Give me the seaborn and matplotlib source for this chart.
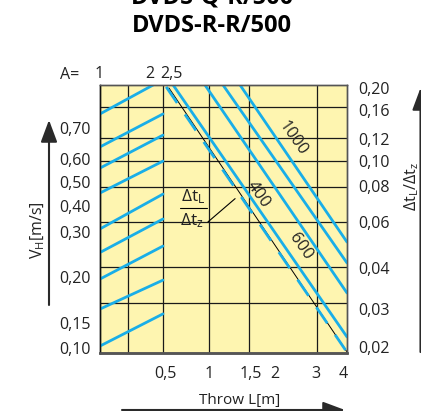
import numpy as np
import pandas as pd
import matplotlib.pyplot as plt
import seaborn as sns

# Nomogram values, as fractions of the plot box
# (x: 0 = left edge, 1 = right edge; y: 0 = bottom, 1 = top)
grid_x = [0.113, 0.255, 0.441, 0.603, 0.879]
grid_y = [0.918, 0.802, 0.716, 0.619, 0.489, 0.321, 0.187]

# V_H side: short rising lines
vh_start = [(0.0, 0.892), (0.0, 0.769), (0.0, 0.690), (0.0, 0.597), (0.0, 0.463),
            (0.004, 0.377), (0.0, 0.276), (0.0, 0.164), (0.0, 0.026)]
vh_end = [(0.255, 1.02), (0.255, 0.892), (0.255, 0.813), (0.255, 0.716), (0.255, 0.593),
          (0.255, 0.500), (0.255, 0.399), (0.255, 0.272), (0.255, 0.146)]

# throw side: falling lines
throw_start = [(0.296, 1.0), (0.425, 1.0), (0.498, 1.0), (0.567, 1.0)]
throw_end = [(1.0, 0.060), (1.0, 0.224), (1.0, 0.336), (1.0, 0.414)]
dashed_line = [(0.268, 0.993), (0.994, 0.011)]
guide_line = [(0.279, 0.989), (1.0, 0.004)]

curve_labels = ['1000', '400', '600']
curve_xy = [(0.781, 0.802), (0.640, 0.590), (0.810, 0.396)]

left_labels = ['0,70', '0,60', '0,50', '0,40', '0,30', '0,20', '0,15', '0,10']
left_pos = [0.840, 0.724, 0.638, 0.549, 0.451, 0.284, 0.112, 0.019]
right_labels = ['0,20', '0,16', '0,12', '0,10', '0,08', '0,06', '0,04', '0,03', '0,02']
right_pos = [0.989, 0.907, 0.799, 0.716, 0.623, 0.489, 0.317, 0.164, 0.022]
bottom_labels = ['0,5', '1', '1,5', '2', '3', '4']
bottom_pos = [0.263, 0.441, 0.611, 0.709, 0.874, 0.984]
top_labels = ['1', '2', '2,5']
top_pos = [-0.003, 0.202, 0.291]

BLUE = '#19aee8'
YELLOW = '#fef5b0'
INK = '#222222'

sns.set_style('white')
plt.rcParams['font.family'] = ['Open Sans', 'DejaVu Sans']
plt.rcParams['mathtext.fontset'] = 'custom'
plt.rcParams['mathtext.rm'] = 'Open Sans'
plt.rcParams['mathtext.it'] = 'Open Sans:italic'
plt.rcParams['mathtext.bf'] = 'Open Sans:bold'

W, H = 421, 411
fig = plt.figure(figsize=(W / 100, H / 100), dpi=100)
ax = fig.add_axes([100 / W, 1 - 353 / H, 247 / W, 268 / H])
ax.set_facecolor(YELLOW)
ax.set_xlim(0, 1)
ax.set_ylim(0, 1)

for gx in grid_x:
    ax.axvline(gx, color='#1a1a1a', lw=0.9, zorder=1)
for gy in grid_y:
    ax.axhline(gy, color='#1a1a1a', lw=0.9, zorder=1)

# solid blue lines
rows = []
for i, (s, e) in enumerate(zip(vh_start + throw_start, vh_end + throw_end)):
    rows.append({'x': s[0], 'y': s[1], 'line': i})
    rows.append({'x': e[0], 'y': e[1], 'line': i})
lines = pd.DataFrame(rows)
sns.lineplot(data=lines, x='x', y='y', units='line', estimator=None, sort=False,
             color=BLUE, lw=2.0, ax=ax, legend=False, zorder=3)

# thin black guide and the dashed blue line along it
guide = pd.DataFrame(guide_line, columns=['x', 'y'])
sns.lineplot(data=guide, x='x', y='y', sort=False, color='black', lw=0.7, ax=ax, zorder=2)
dashed = pd.DataFrame(dashed_line, columns=['x', 'y'])
sns.lineplot(data=dashed, x='x', y='y', sort=False, color=BLUE, lw=2.0, ax=ax,
             linestyle=(0, (7, 5)), zorder=3)

for lab, (cx, cy) in zip(curve_labels, curve_xy):
    ax.text(cx, cy, lab, rotation=-55, ha='center', va='center', fontsize=12,
            color=INK, rotation_mode='anchor', zorder=4)

# fraction label with leader
ax.text(0.377, 0.582, r'$\mathrm{\Delta t_L}$', ha='center', va='center', fontsize=12.5, color=INK)
ax.text(0.372, 0.494, r'$\mathrm{\Delta t_z}$', ha='center', va='center', fontsize=12.5, color=INK)
ax.plot([0.324, 0.433], [0.541, 0.541], color='black', lw=0.8)
ax.plot([0.437, 0.547], [0.489, 0.576], color='black', lw=0.8)

# axes labels / ticks
ax.set_xlabel('')
ax.set_ylabel('')
ax.set_yticks(left_pos, left_labels)
ax.set_xticks(bottom_pos, bottom_labels)
ax.tick_params(axis='y', length=0, pad=7, labelsize=11.5, labelcolor=INK)
ax.tick_params(axis='x', length=0, pad=9, labelsize=11.5, labelcolor=INK)
ax2 = ax.twinx()
ax2.set_ylim(0, 1)
ax2.set_yticks(right_pos, right_labels)
ax2.tick_params(axis='y', length=0, pad=8, labelsize=11.5, labelcolor=INK)
for a in (ax, ax2):
    for sp in a.spines.values():
        sp.set_color('#555555')
        sp.set_linewidth(1.0)
    a.spines['bottom'].set_linewidth(1.8)
    a.spines['left'].set_color('#111111')

for lab, tx in zip(top_labels, top_pos):
    ax.text(tx, 1.012, lab, ha='center', va='bottom', fontsize=11.5, color=INK,
            transform=ax.transAxes)
fig.text(70 / W, 1 - 79 / H, 'A=', ha='center', va='baseline', fontsize=11.5, color=INK)

# titles (the first line is cut by the top edge, as in the source)
fig.text(212 / W, 1 - 3.5 / H, 'DVDS-Q-R/500', ha='center', va='baseline',
         fontsize=17, fontweight='bold', color='black')
fig.text(212 / W, 1 - 32.5 / H, 'DVDS-R-R/500', ha='center', va='baseline',
         fontsize=17, fontweight='bold', color='black')

# outer axis titles and arrows
fig.text(38 / W, 1 - 230 / H, r'V$_\mathrm{H}$[m/s]', rotation=90, ha='center',
         va='center', fontsize=11.5, color=INK)
fig.text(412 / W, 1 - 186 / H, r'$\mathrm{\Delta t_L/\Delta t_z}$', rotation=90,
         ha='center', va='center', fontsize=11.5, color=INK)
fig.text(240 / W, 1 - 400 / H, 'Throw L[m]', ha='center', va='center', fontsize=11,
         color=INK)

arrow = dict(arrowstyle='-|>,head_length=0.75,head_width=0.28', mutation_scale=18,
             color='#2a2a2a', lw=1.5, shrinkA=0, shrinkB=0)
ax.annotate('', xy=(49 / W, 1 - 120 / H), xytext=(49 / W, 1 - 305 / H),
            xycoords='figure fraction', textcoords='figure fraction', arrowprops=arrow)
ax.annotate('', xy=(420.5 / W, 1 - 88 / H), xytext=(420.5 / W, 1 - 352 / H),
            xycoords='figure fraction', textcoords='figure fraction', arrowprops=arrow)
ax.annotate('', xy=(345 / W, 1 - 410 / H), xytext=(122 / W, 1 - 410 / H),
            xycoords='figure fraction', textcoords='figure fraction', arrowprops=arrow)

fig.savefig('out.png', dpi=100)
